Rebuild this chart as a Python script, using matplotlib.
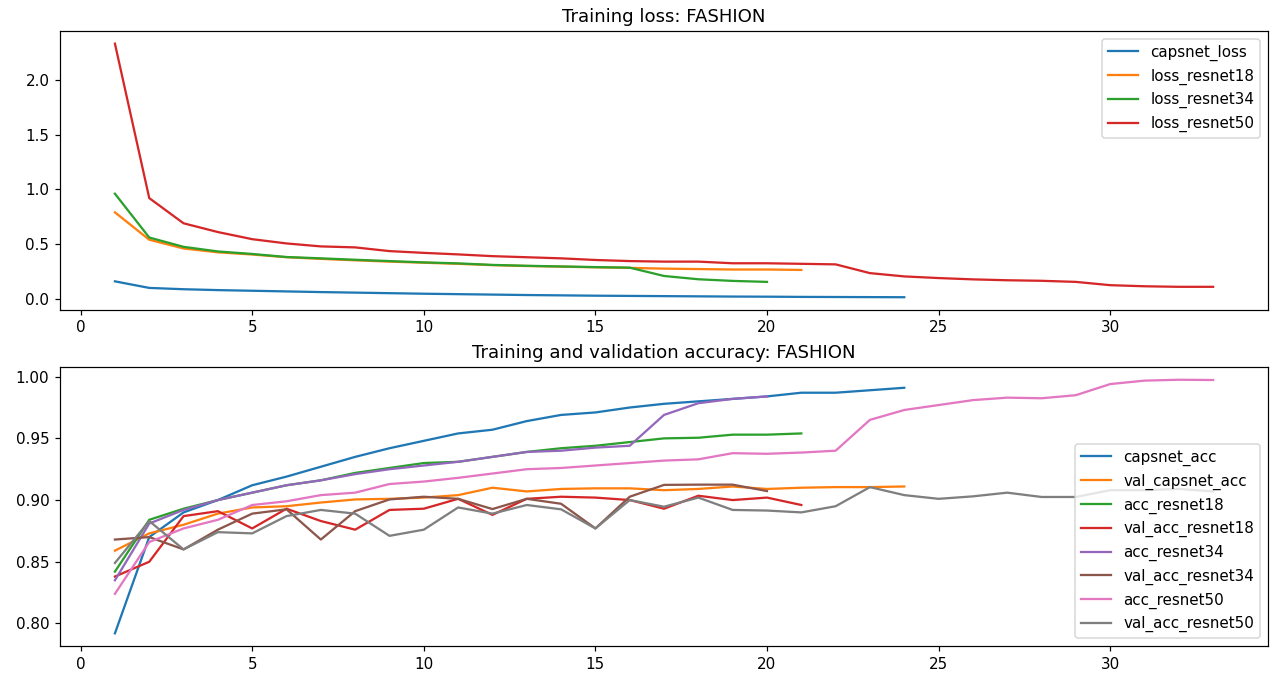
import matplotlib
matplotlib.use("Agg")
import matplotlib.pyplot as plt

# training loss per epoch
capsnet_loss = [0.160, 0.100, 0.088, 0.080, 0.074, 0.068, 0.062, 0.057, 0.052, 0.047,
                0.043, 0.039, 0.035, 0.032, 0.029, 0.027, 0.025, 0.023, 0.021, 0.020,
                0.018, 0.017, 0.016, 0.015]
loss_resnet18 = [0.79, 0.54, 0.46, 0.425, 0.405, 0.38, 0.365, 0.352, 0.34, 0.33,
                 0.32, 0.308, 0.30, 0.294, 0.288, 0.283, 0.276, 0.272, 0.268, 0.268,
                 0.264]
loss_resnet34 = [0.96, 0.56, 0.475, 0.433, 0.41, 0.382, 0.37, 0.357, 0.345, 0.333,
                 0.324, 0.31, 0.302, 0.296, 0.29, 0.285, 0.209, 0.179, 0.164, 0.155]
loss_resnet50 = [2.33, 0.92, 0.69, 0.61, 0.545, 0.506, 0.479, 0.47, 0.436, 0.42,
                 0.406, 0.39, 0.38, 0.37, 0.355, 0.345, 0.34, 0.34, 0.325, 0.325,
                 0.32, 0.315, 0.235, 0.205, 0.19, 0.178, 0.17, 0.165, 0.155, 0.125,
                 0.115, 0.11, 0.11]

# accuracy per epoch
capsnet_acc = [0.792, 0.870, 0.890, 0.900, 0.912, 0.919, 0.927, 0.935, 0.942, 0.948,
               0.954, 0.957, 0.964, 0.969, 0.971, 0.975, 0.978, 0.980, 0.982, 0.984,
               0.987, 0.987, 0.989, 0.991]
val_capsnet_acc = [0.859, 0.873, 0.880, 0.889, 0.894, 0.895, 0.898, 0.9005, 0.901, 0.902,
                   0.904, 0.910, 0.907, 0.909, 0.9095, 0.9095, 0.908, 0.909, 0.911, 0.909,
                   0.910, 0.9105, 0.9105, 0.911]
acc_resnet18 = [0.842, 0.884, 0.893, 0.900, 0.906, 0.912, 0.916, 0.922, 0.926, 0.930,
                0.931, 0.935, 0.939, 0.942, 0.944, 0.947, 0.950, 0.9505, 0.953, 0.953,
                0.954]
val_acc_resnet18 = [0.838, 0.850, 0.887, 0.891, 0.877, 0.893, 0.883, 0.876, 0.892, 0.893,
                    0.901, 0.888, 0.901, 0.9027, 0.902, 0.900, 0.893, 0.9035, 0.900, 0.902,
                    0.896]
acc_resnet34 = [0.835, 0.881, 0.892, 0.900, 0.906, 0.912, 0.916, 0.921, 0.925, 0.928,
                0.931, 0.935, 0.939, 0.940, 0.9425, 0.944, 0.969, 0.9785, 0.982, 0.984]
val_acc_resnet34 = [0.868, 0.870, 0.860, 0.876, 0.889, 0.8925, 0.868, 0.891, 0.9005, 0.9027,
                    0.901, 0.8927, 0.901, 0.897, 0.877, 0.9027, 0.9123, 0.9125, 0.9125, 0.9073]
acc_resnet50 = [0.824, 0.866, 0.877, 0.884, 0.896, 0.899, 0.904, 0.906, 0.913, 0.915,
                0.918, 0.9215, 0.925, 0.926, 0.928, 0.930, 0.932, 0.933, 0.938, 0.9375,
                0.9385, 0.940, 0.965, 0.973, 0.977, 0.981, 0.983, 0.9825, 0.985, 0.994,
                0.9968, 0.9975, 0.9973]
val_acc_resnet50 = [0.849, 0.883, 0.860, 0.874, 0.873, 0.887, 0.892, 0.889, 0.871, 0.876,
                    0.894, 0.889, 0.896, 0.8925, 0.877, 0.900, 0.8946, 0.902, 0.892, 0.8915,
                    0.890, 0.895, 0.9105, 0.904, 0.901, 0.903, 0.906, 0.9025, 0.9025, 0.908,
                    0.908, 0.909, 0.907]

loss_series = [
    ("capsnet_loss", capsnet_loss),
    ("loss_resnet18", loss_resnet18),
    ("loss_resnet34", loss_resnet34),
    ("loss_resnet50", loss_resnet50),
]
acc_series = [
    ("capsnet_acc", capsnet_acc),
    ("val_capsnet_acc", val_capsnet_acc),
    ("acc_resnet18", acc_resnet18),
    ("val_acc_resnet18", val_acc_resnet18),
    ("acc_resnet34", acc_resnet34),
    ("val_acc_resnet34", val_acc_resnet34),
    ("acc_resnet50", acc_resnet50),
    ("val_acc_resnet50", val_acc_resnet50),
]

def epochs(vals):
    return list(range(1, len(vals) + 1))

dpi = 109
fig, (ax1, ax2) = plt.subplots(2, 1, figsize=(1288 / dpi, 678 / dpi), dpi=dpi)
fig.subplots_adjust(left=0.0466, right=0.9845, top=0.9543, bottom=0.0472, hspace=0.205)

for name, vals in loss_series:
    ax1.plot(epochs(vals), vals, label=name)
ax1.set_title("Training loss: FASHION")
ax1.legend(loc="upper right")

for name, vals in acc_series:
    ax2.plot(epochs(vals), vals, label=name)
ax2.set_title("Training and validation accuracy: FASHION")
ax2.legend(loc="lower right")

plt.savefig("out.png", dpi=dpi)
